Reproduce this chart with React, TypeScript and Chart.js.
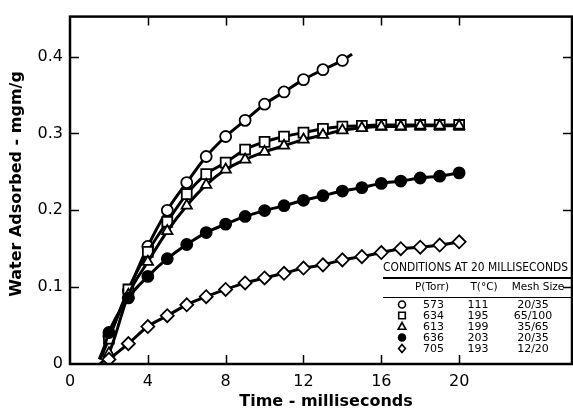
import { useEffect, useRef } from "react";
import { Chart, registerables } from "chart.js";
Chart.register(...registerables);

// ---- data ----
const openCircleTimes = [1.5, 2, 3, 4, 5, 6, 7, 8, 9, 10, 11, 12, 13, 14, 14.5];
const openCircleValues = [0.006, 0.036, 0.095, 0.153, 0.2, 0.236, 0.27, 0.296, 0.317, 0.338, 0.354, 0.37, 0.383, 0.395, 0.403];

const seriesTimes = [1.55, 2, 3, 4, 5, 6, 7, 8, 9, 10, 11, 12, 13, 14, 15, 16, 17, 18, 19, 20];
const squareValues = [0.006, 0.033, 0.097, 0.146, 0.185, 0.221, 0.247, 0.262, 0.279, 0.289, 0.296, 0.301, 0.306, 0.309, 0.31, 0.311, 0.311, 0.311, 0.311, 0.311];
const triangleValues = [0.0, 0.014, 0.09, 0.133, 0.173, 0.206, 0.233, 0.253, 0.266, 0.276, 0.284, 0.292, 0.298, 0.304, 0.307, 0.309, 0.309, 0.31, 0.31, 0.31];
const filledTimes = [1.65, 2, 3, 4, 5, 6, 7, 8, 9, 10, 11, 12, 13, 14, 15, 16, 17, 18, 19, 20];
const filledValues = [0.012, 0.041, 0.086, 0.114, 0.137, 0.1555, 0.171, 0.182, 0.192, 0.1996, 0.206, 0.213, 0.219, 0.225, 0.2295, 0.235, 0.238, 0.242, 0.2444, 0.2487];
const diamondTimes = [2, 3, 4, 5, 6, 7, 8, 9, 10, 11, 12, 13, 14, 15, 16, 17, 18, 19, 20];
const diamondValues = [0.006, 0.0265, 0.0487, 0.0628, 0.077, 0.0876, 0.097, 0.1055, 0.112, 0.118, 0.1248, 0.129, 0.1355, 0.1397, 0.145, 0.15, 0.152, 0.1547, 0.159];

const xTickValues = [0, 4, 8, 12, 16, 20];
const yTickValues = [0, 0.1, 0.2, 0.3, 0.4];

const xTitle = "Time - milliseconds";
const yTitle = "Water Adsorbed - mgm/g";

const legendTitle = "CONDITIONS AT 20 MILLISECONDS";
const legendHeaders = ["P(Torr)", "T(°C)", "Mesh Size"];
const legendPressure = ["573", "634", "613", "636", "705"];
const legendTemp = ["111", "195", "199", "203", "193"];
const legendMesh = ["20/35", "65/100", "35/65", "20/35", "12/20"];

const FONT = "'DejaVu Sans', 'Liberation Sans', sans-serif";

type Style = { pointStyle: any; fill: string; radius: number };
const styles: Style[] = [
  { pointStyle: "circle", fill: "#fff", radius: 5.5 },
  { pointStyle: "rect", fill: "#fff", radius: 7 },
  { pointStyle: "triangle", fill: "#fff", radius: 6 },
  { pointStyle: "circle", fill: "#000", radius: 5.5 },
  { pointStyle: "rectRot", fill: "#fff", radius: 6.5 },
];

function pts(ts: number[], vs: number[]) {
  return ts.map((t, i) => ({ x: t, y: vs[i] }));
}

function marker(ctx: CanvasRenderingContext2D, style: string, x: number, y: number, r: number) {
  ctx.beginPath();
  if (style === "circle") {
    ctx.arc(x, y, r, 0, Math.PI * 2);
  } else if (style === "rect") {
    ctx.rect(x - r, y - r, 2 * r, 2 * r);
  } else if (style === "triangle") {
    ctx.moveTo(x, y - r);
    ctx.lineTo(x + r * 0.95, y + r * 0.7);
    ctx.lineTo(x - r * 0.95, y + r * 0.7);
    ctx.closePath();
  } else {
    ctx.moveTo(x, y - r);
    ctx.lineTo(x + r * 0.85, y);
    ctx.lineTo(x, y + r);
    ctx.lineTo(x - r * 0.85, y);
    ctx.closePath();
  }
  ctx.fill();
  ctx.stroke();
}

const decorPlugin = {
  id: "decor",
  afterDatasetsDraw(chart: any) {
    const { ctx, chartArea: a, scales } = chart;
    const xs = scales.x;
    const ys = scales.y;
    ctx.save();
    ctx.strokeStyle = "#000";
    ctx.lineWidth = 2.5;
    ctx.strokeRect(a.left, a.top, a.right - a.left, a.bottom - a.top);
    ctx.lineWidth = 1.5;
    const tl = 9;
    ctx.beginPath();
    for (const v of xTickValues) {
      if (v === 0) continue;
      const px = Math.round(xs.getPixelForValue(v)) + 0.5;
      ctx.moveTo(px, a.bottom);
      ctx.lineTo(px, a.bottom - tl);
      ctx.moveTo(px, a.top);
      ctx.lineTo(px, a.top + tl);
    }
    for (const v of yTickValues) {
      if (v === 0) continue;
      const py = Math.round(ys.getPixelForValue(v)) + 0.5;
      ctx.moveTo(a.left, py);
      ctx.lineTo(a.left + tl, py);
      ctx.moveTo(a.right, py);
      ctx.lineTo(a.right - tl, py);
    }
    ctx.stroke();

    // axis titles
    ctx.fillStyle = "#000";
    ctx.font = `600 16px ${FONT}`;
    ctx.textAlign = "center";
    ctx.textBaseline = "middle";
    ctx.fillText(xTitle, 326, 402);
    ctx.save();
    ctx.translate(17, 184);
    ctx.rotate(-Math.PI / 2);
    ctx.fillText(yTitle, 0, 0);
    ctx.restore();

    // legend table
    const L = 383;
    const R = 571;
    ctx.font = `500 11.5px ${FONT}`;
    ctx.textAlign = "left";
    const tw = ctx.measureText(legendTitle).width;
    ctx.save();
    ctx.translate(L, 268);
    ctx.scale(185 / tw, 1);
    ctx.fillText(legendTitle, 0, 0);
    ctx.restore();
    ctx.lineWidth = 2;
    ctx.beginPath();
    ctx.moveTo(L, 278);
    ctx.lineTo(R, 278);
    ctx.stroke();
    ctx.lineWidth = 1;
    ctx.beginPath();
    ctx.moveTo(L, 297.5);
    ctx.lineTo(R, 297.5);
    ctx.stroke();
    ctx.font = `10.5px ${FONT}`;
    ctx.textAlign = "center";
    const hx = [432, 484, 538];
    legendHeaders.forEach((h, i) => ctx.fillText(h, hx[i], 287.5));
    ctx.font = `11px ${FONT}`;
    for (let i = 0; i < 5; i++) {
      const y = 304.5 + i * 11;
      const s = styles[i];
      ctx.lineWidth = 1.6;
      ctx.fillStyle = s.fill;
      ctx.strokeStyle = "#000";
      const r = s.pointStyle === "rect" ? 3.3 : s.pointStyle === "circle" ? 3.5 : 4;
      marker(ctx, s.pointStyle, 402, y, r);
      ctx.fillStyle = "#000";
      ctx.textAlign = "left";
      ctx.fillText(legendPressure[i], 423, y + 0.5);
      ctx.textAlign = "center";
      ctx.fillText(legendTemp[i], 478, y + 0.5);
      ctx.fillText(legendMesh[i], 533, y + 0.5);
    }
    ctx.restore();
  },
};

export default function App() {
  const ref = useRef<HTMLCanvasElement>(null);
  useEffect(() => {
    const mk = (data: any[], s: Style) => ({
      data,
      borderColor: "#000",
      borderWidth: 3,
      backgroundColor: s.fill,
      pointStyle: s.pointStyle,
      pointRadius: (c: any) => (Number.isInteger(c.raw?.x) ? s.radius : 0),
      pointBorderWidth: 1.8,
      pointBorderColor: "#000",
      pointBackgroundColor: s.fill,
      cubicInterpolationMode: "monotone",
      fill: false,
    });
    const chart = new Chart(ref.current!, {
      type: "line",
      data: {
        datasets: [
          mk(pts(diamondTimes, diamondValues), styles[4]),
          mk(pts(filledTimes, filledValues), styles[3]),
          mk(pts(seriesTimes, triangleValues), styles[2]),
          mk(pts(seriesTimes, squareValues), styles[1]),
          mk(pts(openCircleTimes, openCircleValues), styles[0]),
        ] as any,
      },
      options: {
        animation: false,
        responsive: false,
        events: [],
        layout: { autoPadding: false, padding: { top: 13, right: 1, left: 0, bottom: 0 } },
        plugins: { legend: { display: false }, tooltip: { enabled: false } },
        scales: {
          x: {
            type: "linear",
            min: 0,
            max: 25.8,
            grid: { display: false, drawTicks: false },
            border: { display: false },
            afterBuildTicks: (s: any) => {
              s.ticks = xTickValues.map((v) => ({ value: v }));
            },
            afterFit: (s: any) => {
              s.height = 50;
            },
            ticks: {
              color: "#000",
              font: { family: FONT, size: 16 },
              padding: 8,
              maxRotation: 0,
              autoSkip: false,
            },
          },
          y: {
            min: 0,
            max: 0.452,
            grid: { display: false, drawTicks: false },
            border: { display: false },
            afterBuildTicks: (s: any) => {
              s.ticks = yTickValues.map((v) => ({ value: v }));
            },
            afterFit: (s: any) => {
              s.width = 70;
            },
            ticks: {
              color: "#000",
              font: { family: FONT, size: 16 },
              padding: 7,
              autoSkip: false,
              callback: (v: any) => String(Math.round(Number(v) * 10) / 10),
            },
          },
        },
      },
      plugins: [decorPlugin],
    } as any);
    return () => chart.destroy();
  }, []);
  return (
    <div style={{ position: "fixed", left: 0, top: 0, width: 573, height: 414, background: "#fff" }}>
      <canvas ref={ref} width={573} height={414} style={{ width: 573, height: 414 }} />
    </div>
  );
}
